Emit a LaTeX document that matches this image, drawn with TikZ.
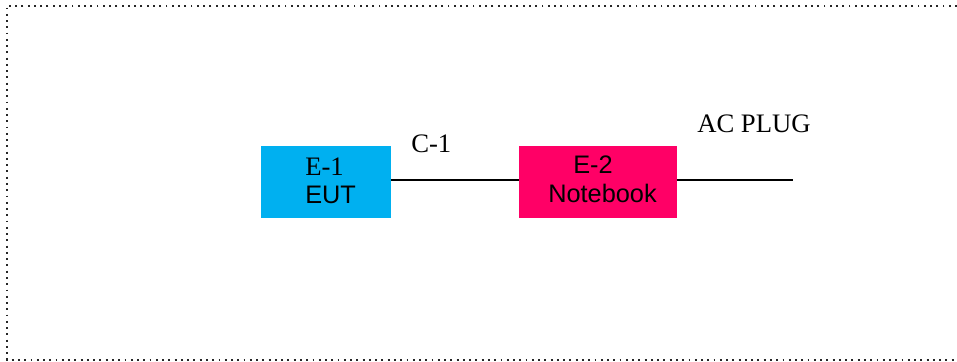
\documentclass[tikz,border=0pt]{standalone}
\usepackage{fontspec}
\setmainfont{Liberation Serif}
\setsansfont{Liberation Sans}
\usetikzlibrary{positioning}
\definecolor{eutblue}{HTML}{00B0F0}
\definecolor{nbpink}{HTML}{FF0066}

\begin{document}
\begin{tikzpicture}[
  x=0.75pt, y=-0.75pt,
  eqbox/.style={draw=none, minimum width=97.5pt, minimum height=54pt, inner sep=0pt},
  serlabel/.style={font=\fontsize{20}{23}\selectfont\rmfamily, inner sep=0pt, anchor=base west},
  sanlabel/.style={font=\fontsize{19}{22}\selectfont\sffamily, inner sep=0pt, anchor=base west},
  cable/.style={line width=1.5pt},
  frame/.style={line width=1.5pt, dash pattern=on 1.4pt off 3.3pt, black!85},
]
  \useasboundingbox (0,0) rectangle (957,361);
  % outer frame, its right side falls outside the picture
  \draw[frame] (957,5.5) -- (6.5,5.5) -- (6.5,359.5) -- (957,359.5);

  \node[eqbox, fill=eutblue] (e1) at (325.5,181.5) {};
  \node[eqbox, fill=nbpink, minimum width=118pt] (e2) at (598,181.8) {};

  \node[serlabel] (e1name) at (305,175) {E-1};
  \node[sanlabel] (e1type) at (305,203) {EUT};
  \node[sanlabel] (e2name) at (573,173) {E-2};
  \node[sanlabel] (e2type) at (548,202) {Notebook};

  \coordinate (plug) at (793,180);
  \draw[cable] (e1.east |- 0,180) -- (e2.west |- 0,180);
  \draw[cable] (e2.east |- 0,180) -- (plug);

  \node[serlabel] (c1) at (411,152) {C-1};
  \node[serlabel] (acplug) at (697,132) {AC PLUG};
\end{tikzpicture}
\end{document}
